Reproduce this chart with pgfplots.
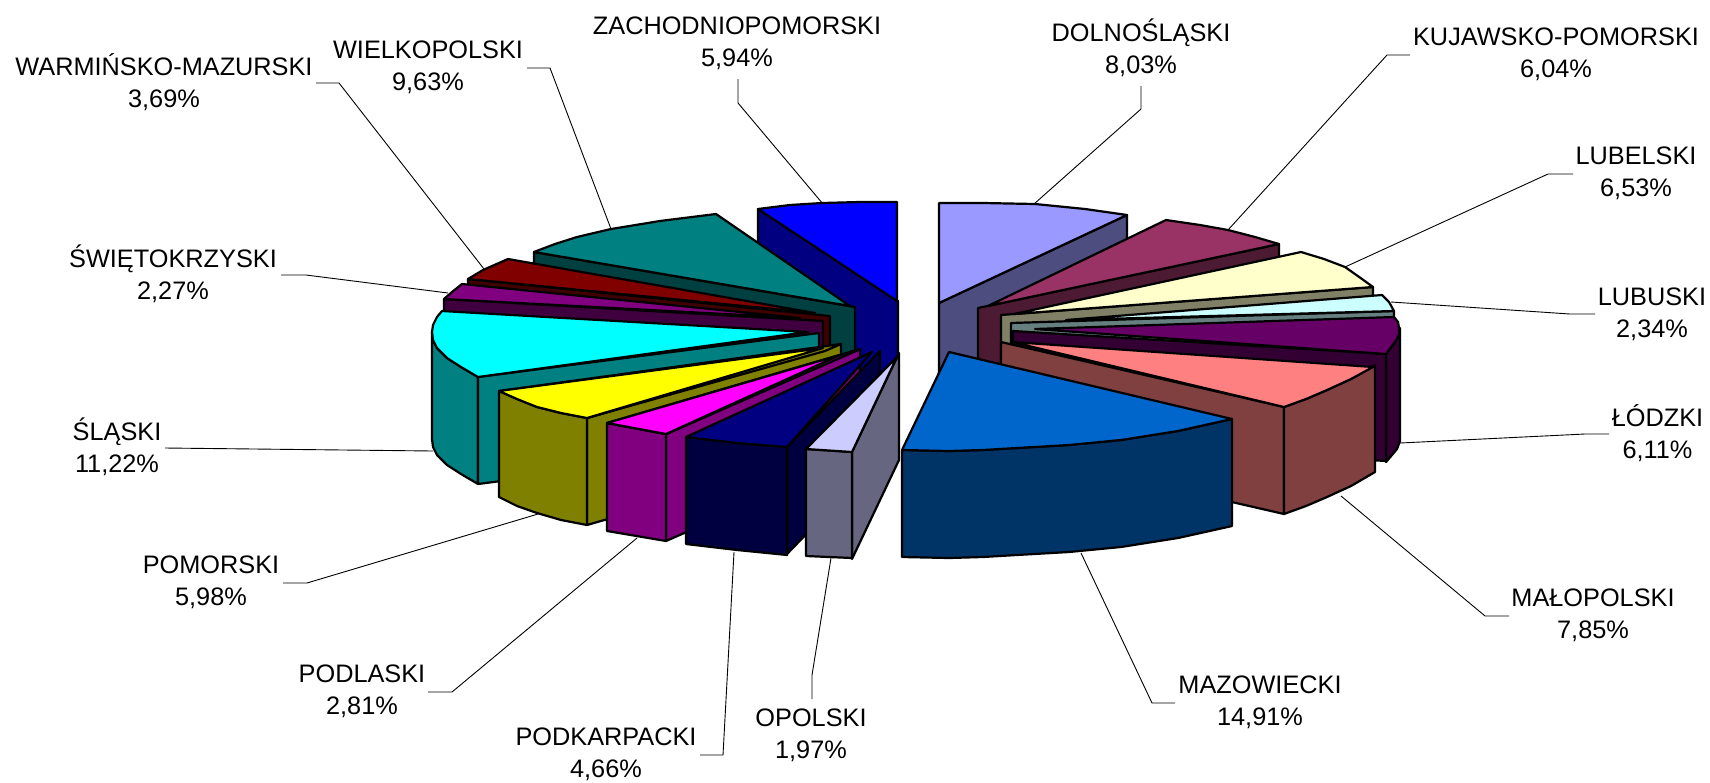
\documentclass[border=0pt]{standalone}
\usepackage{fontspec}
\setmainfont{Liberation Sans}
\usepackage{pgfplots}
\pgfplotsset{compat=1.18}
\newcommand\face[2]{\addplot[draw=black,line width=1.1pt,line join=round,fill=#1] coordinates {#2} --cycle;}
\newcommand\leader[1]{\addplot[draw=black,line width=0.45pt] coordinates {#1};}
\newcommand\lab[3]{\node[align=center,font=\fontsize{12.65}{15.9}\selectfont,inner sep=0pt] at (axis cs:#1) {#2\\#3};}
\definecolor{c1}{HTML}{9999FF}\definecolor{s1}{HTML}{4D4D80}
\definecolor{c2}{HTML}{993366}\definecolor{s2}{HTML}{4D1A33}
\definecolor{c3}{HTML}{FFFFCC}\definecolor{s3}{HTML}{808066}
\definecolor{c4}{HTML}{CCFFFF}\definecolor{s4}{HTML}{668080}
\definecolor{c5}{HTML}{660066}\definecolor{s5}{HTML}{330033}
\definecolor{c6}{HTML}{FF8080}\definecolor{s6}{HTML}{804040}
\definecolor{c7}{HTML}{0066CC}\definecolor{s7}{HTML}{003366}
\definecolor{c8}{HTML}{CCCCFF}\definecolor{s8}{HTML}{666680}
\definecolor{c9}{HTML}{000080}\definecolor{s9}{HTML}{000040}
\definecolor{c10}{HTML}{FF00FF}\definecolor{s10}{HTML}{800080}
\definecolor{c11}{HTML}{FFFF00}\definecolor{s11}{HTML}{808000}
\definecolor{c12}{HTML}{00FFFF}\definecolor{s12}{HTML}{008080}
\definecolor{c13}{HTML}{800080}\definecolor{s13}{HTML}{400040}
\definecolor{c14}{HTML}{800000}\definecolor{s14}{HTML}{400000}
\definecolor{c15}{HTML}{008080}\definecolor{s15}{HTML}{004040}
\definecolor{c16}{HTML}{0000FF}\definecolor{s16}{HTML}{000080}
\begin{document}
\begin{tikzpicture}
\begin{axis}[
  scale only axis, width=855pt, height=391pt,
  xmin=0, xmax=1710, ymin=0, ymax=782, y dir=reverse,
  hide axis, no markers, clip=false,
]
% keeps the page at the full frame, hide axis alone does not
\addplot[draw=none] coordinates {(0,0) (1710,0) (1710,782) (0,782)};
% leader lines
\leader{(738,79) (738,103) (823,204)}
\leader{(1141,86) (1141,109) (1034,204)}
\leader{(1410,55) (1387,55) (1228,230)}
\leader{(1573,174) (1548,174) (1345,267)}
\leader{(1595,314) (1570,314) (1391,302)}
\leader{(1609,434) (1585,434) (1400,443)}
\leader{(1509,616) (1485,616) (1341,496)}
\leader{(1175,703) (1152,703) (1081,553)}
\leader{(831,558) (812,675) (812,699)}
\leader{(700,755) (723,755) (734,552)}
\leader{(428,692) (452,692) (637,538)}
\leader{(283,583) (307,583) (538,514)}
\leader{(165,448) (433,451)}
\leader{(281,275) (306,275) (448,293)}
\leader{(316,83) (339,83) (484,269)}
\leader{(527,68) (550,68) (611,229)}
% dolnoslaski
\face{s1}{(939,303) (1127,215) (1127,322) (939,410)}
\face{c1}{(939,303) (939,203) (983,203) (1035,204) (1085,209) (1127,215)}
% zachodniopomorski
\face{s16}{(758,209) (898,301) (898,408) (758,316)}
\face{c16}{(758,209) (790,205) (822,203) (860,202) (897,202) (897,301)}
% wielkopolski
\face{s15}{(534,252) (855,307) (855,414) (534,359)}
\face{c15}{(534,252) (555,244) (577,237) (611,229) (660,221) (716,214) (850,306)}
% kujawsko-pomorski
\face{s2}{(978,308) (1279,244) (1279,351) (978,415)}
\face{c2}{(988,306) (1166,220) (1200,225) (1228,230) (1255,237) (1279,244)}
% warminsko-mazurski
\face{s14}{(468,279) (830,316) (830,423) (468,386)}
\face{c14}{(468,279) (483,270) (508,259) (815,313)}
% swietokrzyski
\face{s13}{(444,299) (823,321) (823,428) (444,406)}
\face{c13}{(444,299) (452,292) (462,284) (800,318)}
% lubelski
\face{s3}{(1001,315) (1373,287) (1373,394) (1001,422)}
\face{c3}{(1014,314) (1301,252) (1324,259) (1345,267) (1362,279) (1373,287)}
% lubuski
\face{s4}{(1011,323) (1394,311) (1394,418) (1011,430)}
\face{c4}{(1066,320) (1382,295) (1389,302) (1394,311)}
% slaski
\face{s12}{(432,332) (433,340) (437,348) (447,358) (461,367) (478,377) (478,484) (461,474) (447,465) (437,455) (433,447) (432,439)}
\face{s12}{(478,377) (819,333) (819,440) (478,484)}
\face{c12}{(442,311) (437,317) (433,325) (432,332) (433,340) (437,348) (447,358) (461,367) (478,377) (808,332)}
% lodzki
\face{s5}{(1400,328) (1400,441) (1397,449) (1392,455) (1386,462) (1386,354) (1392,346) (1397,339) (1399,334)}
\face{s5}{(1013,331) (1386,354) (1386,461) (1013,438)}
\face{c5}{(1035,329) (1394,317) (1398,322) (1399,328) (1399,334) (1397,339) (1392,346) (1386,354)}
% malopolski
\face{s6}{(1001,342) (1284,407) (1284,514) (1001,449)}
\face{s6}{(1284,407) (1306,399) (1327,390) (1351,379) (1375,365) (1375,472) (1351,486) (1327,497) (1306,506) (1284,514)}
\face{c6}{(1012,342) (1373,367) (1351,379) (1327,390) (1306,399) (1284,407)}
% pomorski
\face{s11}{(587,418) (841,344) (841,452) (587,525)}
\face{s11}{(499,391) (517,399) (537,407) (561,413) (587,418) (587,525) (561,520) (537,513) (517,506) (499,497)}
\face{s11}{(499,391) (841,344) (825,351) (587,418)}
\face{c11}{(499,391) (823,348) (587,418) (561,413) (537,407) (517,399)}
% podlaski
\face{s10}{(666,434) (860,349) (860,456) (666,541)}
\face{s10}{(607,423) (666,434) (666,541) (607,531)}
\face{s10}{(607,423) (860,349) (840,358) (666,434)}
\face{c10}{(607,423) (840,355) (666,434)}
% podkarpacki
\face{s9}{(787,447) (880,351) (880,458) (787,554)}
\face{s9}{(686,437) (737,443) (787,447) (787,555) (737,550) (686,544)}
\face{c9}{(686,437) (872,352) (787,447) (737,443)}
% opolski
\face{s8}{(852,452) (899,353) (899,460) (852,559)}
\face{s8}{(806,449) (852,452) (852,558) (806,556)}
\face{c8}{(806,449) (897,357) (852,452)}
% mazowiecki
\face{s7}{(902,450) (949,451) (983,450) (1017,448) (1069,445) (1121,440) (1178,431) (1232,419) (1232,526) (1178,538) (1121,547) (1069,552) (1017,555) (983,557) (949,558) (902,557)}
\face{c7}{(949,352) (1232,419) (1178,431) (1121,440) (1069,445) (1017,448) (983,450) (949,451) (902,450)}
% labels
\lab{737,43}{ZACHODNIOPOMORSKI}{5,94\%}
\lab{1141,48}{DOLNOŚLĄSKI}{8,03\%}
\lab{1556,54.5}{KUJAWSKO-POMORSKI}{6,04\%}
\lab{1636,173.5}{LUBELSKI}{6,53\%}
\lab{1652,314}{LUBUSKI}{2,34\%}
\lab{1657.5,433.5}{ŁÓDZKI}{6,11\%}
\lab{1593,615}{MAŁOPOLSKI}{7,85\%}
\lab{1260,702.5}{MAZOWIECKI}{14,91\%}
\lab{811,735}{OPOLSKI}{1,97\%}
\lab{606,754.5}{PODKARPACKI}{4,66\%}
\lab{362,691}{PODLASKI}{2,81\%}
\lab{211,582.5}{POMORSKI}{5,98\%}
\lab{117,447}{ŚLĄSKI}{11,22\%}
\lab{173,274}{ŚWIĘTOKRZYSKI}{2,27\%}
\lab{164,82}{WARMIŃSKO-MAZURSKI}{3,69\%}
\lab{428,67.5}{WIELKOPOLSKI}{9,63\%}
\end{axis}
\end{tikzpicture}
\end{document}
